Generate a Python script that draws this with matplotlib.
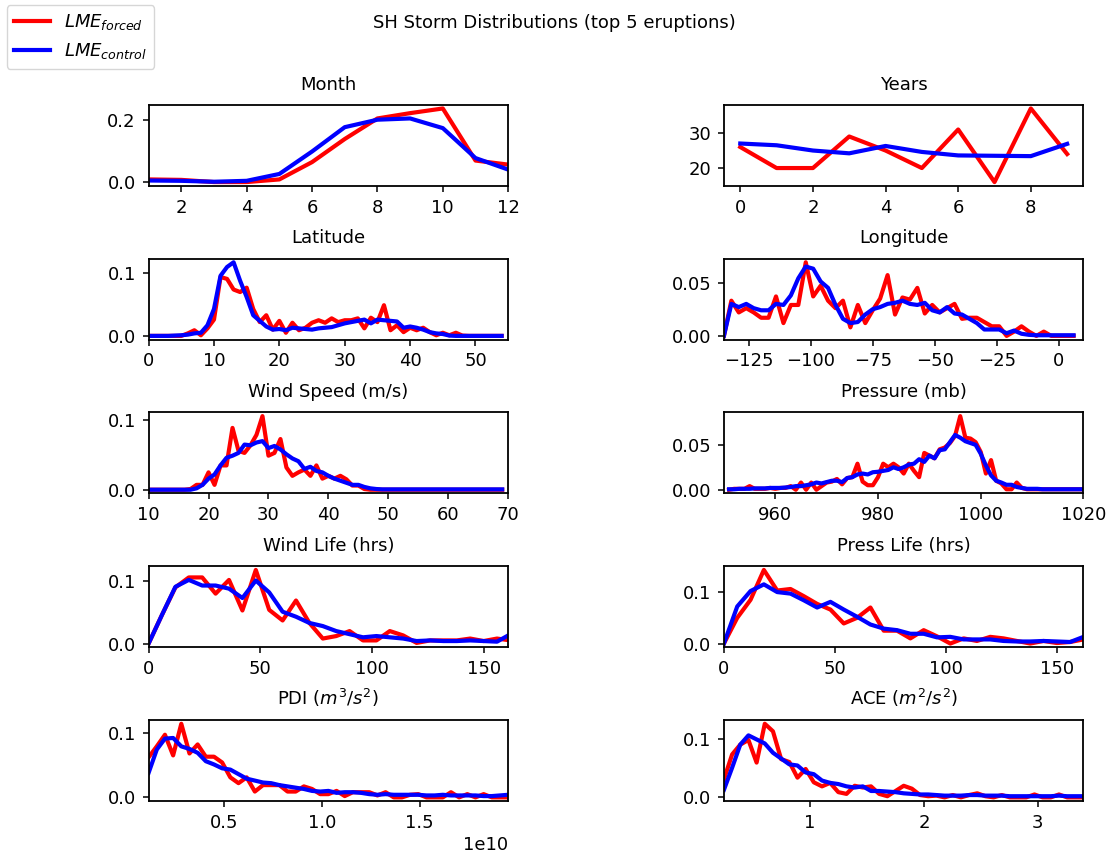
import numpy as np
import matplotlib
matplotlib.use("Agg")
import matplotlib.pyplot as plt
from matplotlib.ticker import MaxNLocator

plt.rcParams['font.family'] = ['DejaVu Sans']
plt.rcParams['font.size'] = 13
plt.rcParams['axes.linewidth'] = 1.3
for ax_name in ('xtick', 'ytick'):
    plt.rcParams[ax_name + '.major.size'] = 4.6
    plt.rcParams[ax_name + '.major.width'] = 1.1
    plt.rcParams[ax_name + '.major.pad'] = 4.6

# --- Month ---
month_x = np.arange(1, 13)
month_forced = [0.0085, 0.007, 0.0, 0.0, 0.0085, 0.064, 0.138, 0.204, 0.221, 0.236, 0.069, 0.056]
month_control = [0.005, 0.004, 0.001, 0.004, 0.026, 0.098, 0.176, 0.200, 0.204, 0.173, 0.077, 0.040]

# --- Years (storm counts) ---
years_x = np.arange(10)
years_forced = [26, 20, 20, 29, 25, 20, 31, 16, 37, 24]
years_control = [27.0, 26.5, 25.0, 24.2, 26.3, 24.6, 23.6, 23.5, 23.4, 26.9]

# --- Latitude ---
lat_x = np.arange(0, 55)
lat_forced = [0, 0, 0, 0, 0, 0, 0.004, 0.009, 0.001, 0.012, 0.026, 0.094, 0.091, 0.074,
              0.070, 0.077, 0.043, 0.022, 0.033, 0.010, 0.024, 0.005, 0.021, 0.009, 0.013,
              0.021, 0.025, 0.021, 0.028, 0.022, 0.025, 0.025, 0.028, 0.012, 0.029, 0.022,
              0.049, 0.009, 0.017, 0.006, 0.013, 0.009, 0.013, 0.006, 0.001, 0.005, 0.001,
              0.005, 0.0005, 0, 0, 0, 0, 0, 0]
lat_control = [0, 0, 0, 0, 0.0005, 0.001, 0.002, 0.004, 0.005, 0.017, 0.043, 0.096, 0.110,
               0.1175, 0.088, 0.062, 0.033, 0.024, 0.015, 0.010, 0.011, 0.009, 0.013, 0.012,
               0.011, 0.010, 0.012, 0.013, 0.014, 0.017, 0.020, 0.022, 0.024, 0.026, 0.020,
               0.026, 0.025, 0.024, 0.023, 0.013, 0.015, 0.013, 0.010, 0.006, 0.004, 0.003,
               0.0005, 0, 0, 0, 0, 0, 0, 0, 0]

# --- Longitude ---
lon_x = np.arange(-135, 7, 3)
lon_forced = [0.0, 0.033, 0.022, 0.026, 0.022, 0.017, 0.017, 0.037, 0.012, 0.029, 0.029,
              0.069, 0.037, 0.047, 0.033, 0.026, 0.033, 0.008, 0.029, 0.012, 0.024, 0.035,
              0.057, 0.020, 0.036, 0.034, 0.045, 0.021, 0.029, 0.022, 0.026, 0.030, 0.016,
              0.017, 0.017, 0.013, 0.009, 0.009, 0.0, 0.004, 0.009, 0.004, 0.0, 0.004, 0.0,
              0.0, 0.0, 0.0]
lon_control = [0.0, 0.030, 0.027, 0.030, 0.026, 0.024, 0.024, 0.030, 0.029, 0.038, 0.054,
               0.065, 0.063, 0.051, 0.045, 0.029, 0.016, 0.012, 0.013, 0.020, 0.025, 0.027,
               0.030, 0.031, 0.033, 0.030, 0.029, 0.031, 0.024, 0.022, 0.027, 0.021, 0.020,
               0.016, 0.012, 0.006, 0.006, 0.006, 0.0025, 0.005, 0.002, 0.001, 0.0006, 0.0006,
               0.0006, 0.0006, 0.0006, 0.0006]

# --- Wind speed ---
wind_x = np.arange(10, 70)
wind_forced = [0, 0, 0, 0, 0, 0, 0, 0.001, 0.007, 0.007, 0.025, 0.007, 0.035, 0.035, 0.089,
               0.056, 0.053, 0.064, 0.079, 0.106, 0.049, 0.053, 0.073, 0.032, 0.020, 0.025,
               0.029, 0.020, 0.035, 0.016, 0.020, 0.016, 0.020, 0.015, 0.006, 0.006, 0.001,
               0, 0, 0, 0, 0, 0, 0, 0, 0, 0, 0, 0, 0, 0, 0, 0, 0, 0, 0, 0, 0, 0, 0]
wind_control = [0, 0, 0, 0, 0, 0, 0, 0, 0.002, 0.007, 0.016, 0.022, 0.035, 0.046, 0.049,
                0.053, 0.065, 0.064, 0.068, 0.070, 0.060, 0.063, 0.058, 0.051, 0.045, 0.041,
                0.030, 0.033, 0.027, 0.025, 0.020, 0.016, 0.013, 0.010, 0.007, 0.007, 0.004,
                0.002, 0.001] + [0.0005] * 21

# --- Pressure ---
pres_x = np.arange(951, 1021)
pres_forced = [0, 0.001, 0.001, 0.001, 0.004, 0.001, 0.001, 0.001, 0.002, 0.001, 0.002,
               0.002, 0.004, 0.0, 0.008, 0.0, 0.008, 0.0, 0.004, 0.008, 0.009, 0.012, 0.006,
               0.013, 0.014, 0.029, 0.009, 0.005, 0.005, 0.014, 0.029, 0.025, 0.029, 0.025,
               0.018, 0.029, 0.021, 0.014, 0.041, 0.038, 0.035, 0.045, 0.047, 0.052, 0.060,
               0.082, 0.058, 0.057, 0.053, 0.042, 0.018, 0.033, 0.010, 0.007, 0.0005, 0.0005,
               0.008, 0.002, 0.0005] + [0.0005] * 11
pres_control = [0.0005, 0.0005, 0.001, 0.001, 0.001, 0.0015, 0.0015, 0.0015, 0.002, 0.002,
                0.002, 0.0025, 0.003, 0.004, 0.004, 0.005, 0.006, 0.008, 0.007, 0.0085,
                0.010, 0.010, 0.0085, 0.013, 0.014, 0.017, 0.018, 0.017, 0.0195, 0.020,
                0.021, 0.022, 0.025, 0.023, 0.025, 0.028, 0.029, 0.034, 0.031, 0.038, 0.035,
                0.044, 0.045, 0.053, 0.061, 0.058, 0.054, 0.052, 0.050, 0.040, 0.027, 0.016,
                0.010, 0.008, 0.0055, 0.0055, 0.003, 0.002, 0.001, 0.001, 0.001] + [0.0005] * 9

# --- Wind life / Press life (hrs) ---
life_x = np.arange(0, 163, 6)
wlife_forced = [0, 0.046, 0.090, 0.106, 0.106, 0.080, 0.102, 0.053, 0.118, 0.054, 0.037,
                0.069, 0.033, 0.008, 0.012, 0.020, 0.005, 0.005, 0.020, 0.013, 0.001, 0.005,
                0.005, 0.005, 0.008, 0.004, 0.008, 0.005]
wlife_control = [0, 0.046, 0.091, 0.102, 0.093, 0.093, 0.088, 0.073, 0.101, 0.082, 0.051,
                 0.043, 0.033, 0.028, 0.020, 0.015, 0.010, 0.012, 0.010, 0.008, 0.004, 0.005,
                 0.004, 0.004, 0.005, 0.004, 0.003, 0.015]
plife_forced = [0, 0.050, 0.085, 0.143, 0.103, 0.106, 0.092, 0.077, 0.066, 0.039, 0.050,
                0.070, 0.025, 0.025, 0.010, 0.026, 0.014, 0.0, 0.010, 0.005, 0.013, 0.010,
                0.005, 0.0, 0.005, 0.001, 0.003, 0.008]
plife_control = [0, 0.072, 0.102, 0.115, 0.100, 0.097, 0.084, 0.070, 0.081, 0.066, 0.052,
                 0.037, 0.029, 0.026, 0.019, 0.019, 0.012, 0.013, 0.008, 0.008, 0.008, 0.005,
                 0.004, 0.004, 0.005, 0.004, 0.003, 0.013]

# --- PDI ---
pdi_x = np.linspace(0.115e10, 1.953e10, 45)
pdi_forced = [0.062, 0.079, 0.097, 0.065, 0.114, 0.068, 0.082, 0.063, 0.063, 0.054, 0.031,
              0.022, 0.031, 0.009, 0.019, 0.019, 0.019, 0.009, 0.009, 0.017, 0.013, 0.005,
              0.005, 0.010, 0.002, 0.008, 0.008, 0.008, 0.003, 0.008, 0, 0, 0.004, 0.005, 0,
              0, 0, 0.008, 0, 0.005, 0, 0.005, 0, 0, 0]
pdi_control = [0.038, 0.074, 0.091, 0.092, 0.079, 0.075, 0.069, 0.056, 0.051, 0.045, 0.043,
               0.036, 0.029, 0.026, 0.023, 0.022, 0.019, 0.017, 0.015, 0.013, 0.010, 0.009,
               0.010, 0.007, 0.008, 0.008, 0.007, 0.005, 0.004, 0.005, 0.004, 0.004, 0.004,
               0.004, 0.003, 0.003, 0.004, 0.003, 0.003, 0.003, 0.003, 0.002, 0.002, 0.003,
               0.004]

# --- ACE ---
ace_x = np.linspace(0.246, 3.40, 45)
ace_forced = [0.031, 0.074, 0.091, 0.099, 0.060, 0.127, 0.114, 0.066, 0.061, 0.034, 0.049,
              0.026, 0.019, 0.025, 0.009, 0.006, 0.020, 0.017, 0.019, 0.006, 0.002, 0.011,
              0.020, 0.015, 0.004, 0.002, 0.003, 0, 0.004, 0, 0.004, 0.007, 0.002, 0, 0.004,
              0, 0, 0, 0.005, 0, 0, 0.005, 0, 0, 0]
ace_control = [0.013, 0.051, 0.091, 0.107, 0.100, 0.093, 0.077, 0.067, 0.057, 0.055, 0.043,
               0.040, 0.029, 0.025, 0.023, 0.019, 0.017, 0.019, 0.011, 0.011, 0.010, 0.009,
               0.007, 0.006, 0.005, 0.005, 0.004, 0.003, 0.003, 0.003, 0.004, 0.004, 0.003,
               0.003, 0.003, 0.002, 0.002, 0.002, 0.002, 0.002, 0.002, 0.003, 0.002, 0.002,
               0.002]

panels = [
    ('Month', month_x, month_forced, month_control, (1, 12)),
    ('Years', years_x, years_forced, years_control, None),
    ('Latitude', lat_x, lat_forced, lat_control, (0, 55)),
    ('Longitude', lon_x, lon_forced, lon_control, (-135, 10)),
    ('Wind Speed (m/s)', wind_x, wind_forced, wind_control, (10, 70)),
    ('Pressure (mb)', pres_x, pres_forced, pres_control, (950, 1020)),
    ('Wind Life (hrs)', life_x, wlife_forced, wlife_control, (0, 161)),
    ('Press Life (hrs)', life_x, plife_forced, plife_control, (0, 162)),
    ('PDI ($m^3/s^2$)', pdi_x, pdi_forced, pdi_control, (0.115e10, 1.953e10)),
    ('ACE ($m^2/s^2$)', ace_x, ace_forced, ace_control, (0.246, 3.40)),
]

nice_steps = [1, 2, 2.5, 5, 10]

fig, axes = plt.subplots(5, 2, figsize=(11.09, 8.66), dpi=100)
fig.subplots_adjust(left=0.134, right=0.977, top=0.879, bottom=0.075,
                    wspace=0.60, hspace=0.90)

for ax, (title, x, forced, control, xlim) in zip(axes.flat, panels):
    l1, = ax.plot(x, forced, color='r', lw=3, label='$LME_{forced}$')
    l2, = ax.plot(x, control, color='b', lw=3, label='$LME_{control}$')
    ax.set_title(title, fontsize=13, pad=11)
    if xlim is not None:
        ax.set_xlim(*xlim)
    ax.xaxis.set_major_locator(MaxNLocator(6, steps=nice_steps))
    ax.yaxis.set_major_locator(MaxNLocator(2, steps=nice_steps))

fig.suptitle('SH Storm Distributions (top 5 eruptions)', fontsize=13, y=0.984)
fig.legend([l1, l2], ['$LME_{forced}$', '$LME_{control}$'], loc='upper left',
           bbox_to_anchor=(0.006, 0.994), borderaxespad=0, fontsize=13)

fig.savefig('out.png')
